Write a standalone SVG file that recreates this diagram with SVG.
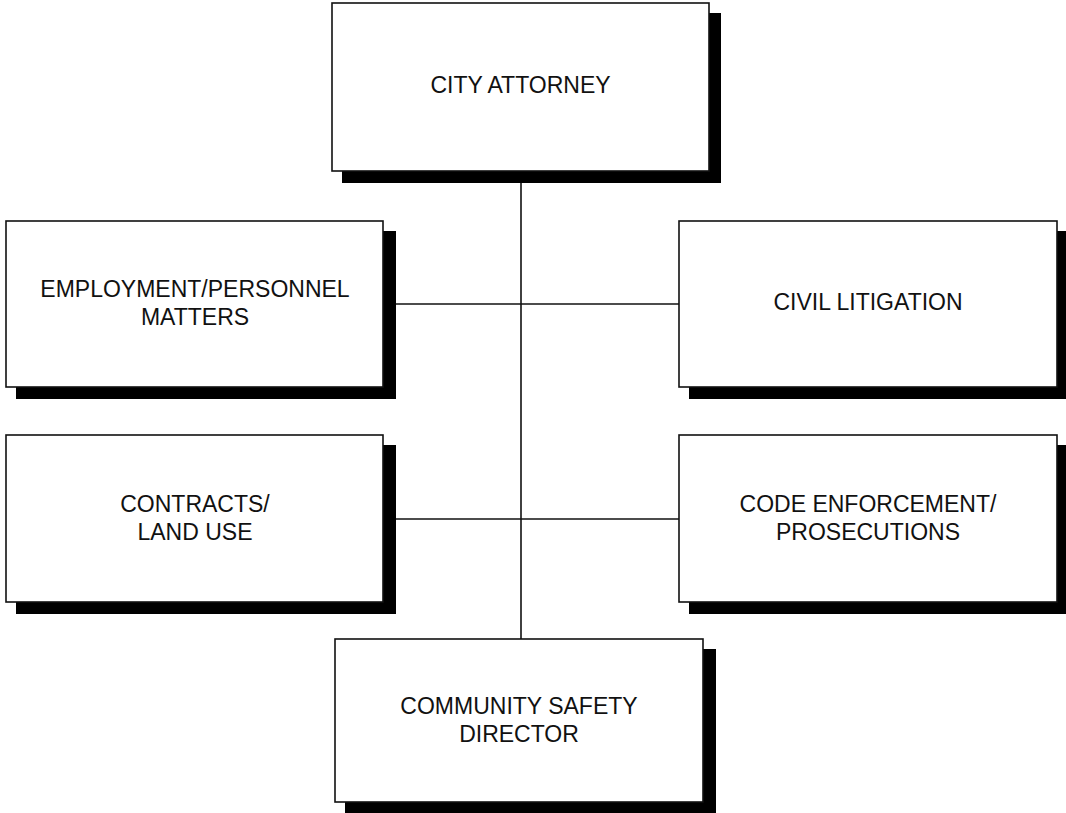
<svg xmlns="http://www.w3.org/2000/svg" width="1066" height="813" viewBox="0 0 1066 813">
  <style>
    .shadow { fill: #000; }
    .box { fill: #fff; stroke: #111; stroke-width: 1.6; }
    .label { font-family: "Liberation Sans", Arial, sans-serif; font-size: 23px; fill: #111; text-anchor: middle; }
    .wire { stroke: #111; stroke-width: 1.6; fill: none; }
  </style>
  <rect width="1066" height="813" fill="#fff"/>

  <!-- connectors -->
  <g id="connectors">
    <line class="wire" x1="521" y1="171" x2="521" y2="639"/>
    <line class="wire" x1="383" y1="304" x2="679" y2="304"/>
    <line class="wire" x1="383" y1="519" x2="679" y2="519"/>
  </g>

  <g id="city-attorney">
    <rect class="shadow" x="342" y="13" width="379" height="170"/>
    <rect class="box" x="332" y="3" width="377" height="168"/>
    <text class="label" x="520.5" y="93">CITY ATTORNEY</text>
  </g>

  <g id="employment-personnel">
    <rect class="shadow" x="16" y="231" width="380" height="168"/>
    <rect class="box" x="6" y="221" width="377" height="166"/>
    <text class="label" x="195" y="297">EMPLOYMENT/PERSONNEL</text>
    <text class="label" x="195" y="325">MATTERS</text>
  </g>

  <g id="civil-litigation">
    <rect class="shadow" x="689" y="231" width="380" height="168"/>
    <rect class="box" x="679" y="221" width="378" height="166"/>
    <text class="label" x="868" y="310">CIVIL LITIGATION</text>
  </g>

  <g id="contracts-land-use">
    <rect class="shadow" x="16" y="445" width="380" height="169"/>
    <rect class="box" x="6" y="435" width="377" height="167"/>
    <text class="label" x="195" y="512">CONTRACTS/</text>
    <text class="label" x="195" y="540">LAND USE</text>
  </g>

  <g id="code-enforcement">
    <rect class="shadow" x="689" y="445" width="380" height="169"/>
    <rect class="box" x="679" y="435" width="378" height="167"/>
    <text class="label" x="868" y="512">CODE ENFORCEMENT/</text>
    <text class="label" x="868" y="540">PROSECUTIONS</text>
  </g>

  <g id="community-safety-director">
    <rect class="shadow" x="345" y="649" width="371" height="175"/>
    <rect class="box" x="335" y="639" width="368" height="163"/>
    <text class="label" x="519" y="714">COMMUNITY SAFETY</text>
    <text class="label" x="519" y="742">DIRECTOR</text>
  </g>
</svg>
